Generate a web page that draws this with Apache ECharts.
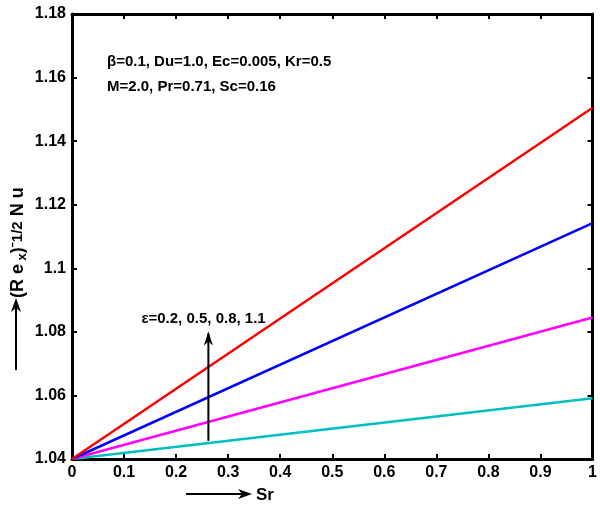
<!DOCTYPE html>
<html>
<head>
<meta charset="utf-8">
<script src="https://cdn.jsdelivr.net/npm/echarts@6/dist/echarts.min.js"></script>
<style>html,body{margin:0;padding:0;background:#fff}#c{width:600px;height:510px}</style>
</head>
<body>
<div id="c"></div>
<script>
var srValues = [0, 1];
var epsLabels = ['0.2', '0.5', '0.8', '1.1'];
var nuEps02 = [1.04, 1.0591];
var nuEps05 = [1.04, 1.0845];
var nuEps08 = [1.04, 1.1142];
var nuEps11 = [1.04, 1.1505];
var lineColors = ['#00bfbf', '#ff00ff', '#0000ff', '#ff0000'];
var xTicks = {min: 0, max: 1, step: 0.1};
var yTicks = {min: 1.04, max: 1.18, step: 0.02};
var arrowX = 0.262, arrowFrom = 1.0457, arrowTo = 1.0795;
var paramLines = ['β=0.1, Du=1.0, Ec=0.005, Kr=0.5', 'M=2.0, Pr=0.71, Sc=0.16'];

var FONT = '"Liberation Sans Narrow", "Arial Narrow", "Liberation Sans", Arial, sans-serif';
var chart = echarts.init(document.getElementById('c'), null, {renderer: 'canvas'});
function pairs(ys) { return srValues.map(function (x, i) { return [x, ys[i]]; }); }
var allSeries = [nuEps02, nuEps05, nuEps08, nuEps11];
var series = allSeries.map(function (ys, i) {
  return {type: 'line', data: pairs(ys), showSymbol: false, symbol: 'none', z: 3,
    lineStyle: {color: lineColors[i], width: 2.5}, silent: true, animation: false};
});
series.push({
  type: 'line', data: [[arrowX, arrowFrom], [arrowX, arrowTo]], symbol: 'none', z: 4,
  lineStyle: {color: '#000', width: 2}, animation: false, silent: true
});
var axisCommon = {
  axisLine: {show: true, onZero: false, lineStyle: {color: '#000', width: 3}},
  axisTick: {show: true, inside: true, length: 5, lineStyle: {color: '#000', width: 2}},
  splitLine: {show: false}
};
var labelStyle = {color: '#000', fontFamily: FONT, fontWeight: 'bold', fontSize: 16};
var fmt = function (v) { return String(parseFloat(v.toFixed(2))); };
var option = {
  animation: false,
  grid: {left: 72, right: 2, top: 14, bottom: 51, containLabel: false},
  xAxis: [
    Object.assign({type: 'value', min: xTicks.min, max: xTicks.max, interval: xTicks.step, position: 'bottom',
      axisLabel: Object.assign({margin: 6, formatter: fmt}, labelStyle)}, axisCommon),
    Object.assign({type: 'value', min: xTicks.min, max: xTicks.max, interval: xTicks.step, position: 'top',
      axisLabel: {show: false}}, axisCommon)
  ],
  yAxis: [
    Object.assign({type: 'value', min: yTicks.min, max: yTicks.max, interval: yTicks.step, position: 'left',
      axisLabel: Object.assign({margin: 6, formatter: fmt}, labelStyle)}, axisCommon),
    Object.assign({type: 'value', min: yTicks.min, max: yTicks.max, interval: yTicks.step, position: 'right',
      axisLabel: {show: false}}, axisCommon)
  ],
  series: series,
  graphic: []
};
chart.setOption(option);

function px(x, y) { return chart.convertToPixel({xAxisIndex: 0, yAxisIndex: 0}, [x, y]); }
var tip = px(arrowX, arrowTo);
var g = [];
g.push({type: 'polygon', shape: {points: [[tip[0], tip[1] - 2], [tip[0] - 4.5, tip[1] + 12], [tip[0], tip[1] + 8], [tip[0] + 4.5, tip[1] + 12]]},
  style: {fill: '#000'}, z: 10});
g.push({type: 'text', x: tip[0] - 67, y: tip[1] - 15, style: {text: 'ε=' + epsLabels.join(', '), fill: '#000',
  font: 'bold 15px ' + FONT, textVerticalAlign: 'middle'}, z: 10});
g.push({type: 'text', x: 107, y: 62, style: {text: paramLines[0], fill: '#000', font: 'bold 15px ' + FONT, textVerticalAlign: 'middle'}, z: 10});
g.push({type: 'text', x: 107, y: 87, style: {text: paramLines[1], fill: '#000', font: 'bold 15px ' + FONT, textVerticalAlign: 'middle'}, z: 10});
g.push({type: 'line', shape: {x1: 186, y1: 494, x2: 244, y2: 494}, style: {stroke: '#000', lineWidth: 2}, z: 10});
g.push({type: 'polygon', shape: {points: [[252, 494], [238, 489], [242, 494], [238, 499]]}, style: {fill: '#000'}, z: 10});
g.push({type: 'text', x: 256, y: 495, style: {text: 'Sr', fill: '#000', font: 'bold 17px ' + FONT, textVerticalAlign: 'middle'}, z: 10});
g.push({type: 'line', shape: {x1: 16, y1: 370, x2: 16, y2: 306}, style: {stroke: '#000', lineWidth: 2}, z: 10});
g.push({type: 'polygon', shape: {points: [[16, 298], [11, 312], [16, 308], [21, 312]]}, style: {fill: '#000'}, z: 10});
g.push({type: 'text', x: 18, y: 298, rotation: Math.PI / 2, style: {
  text: '{a|(R e}{s| x}{a|)}{p|ˉ1/2}{a| N u}', fill: '#000', textVerticalAlign: 'middle', textAlign: 'left',
  rich: {
    a: {font: 'bold 18px ' + FONT, fill: '#000'},
    s: {font: 'bold 13px ' + FONT, fill: '#000', padding: [8, 0, 0, 0]},
    p: {font: 'bold 15px ' + FONT, fill: '#000'}
  }}, z: 10});
chart.setOption({graphic: g});
</script>
</body>
</html>
